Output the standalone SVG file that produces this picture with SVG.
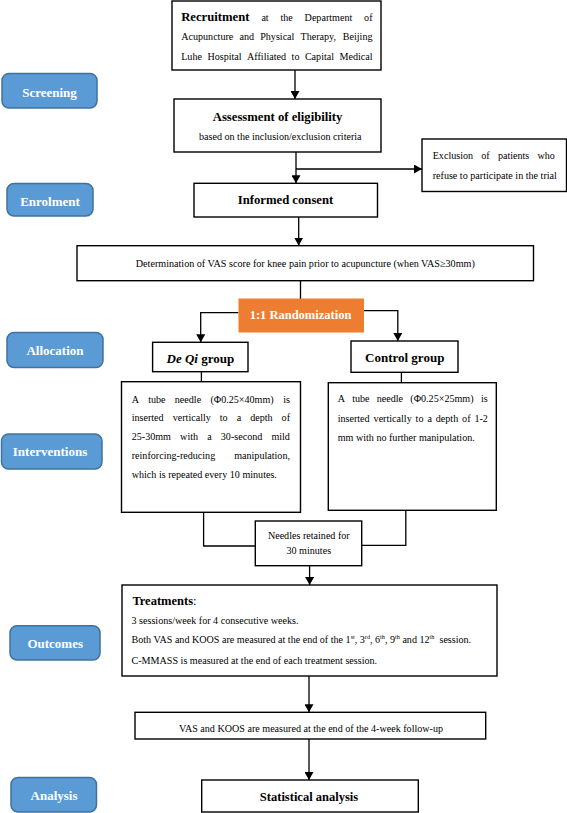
<svg xmlns="http://www.w3.org/2000/svg" width="567" height="813" viewBox="0 0 567 813">
<style>
text{font-family:"Liberation Serif","Times New Roman",serif;fill:#000}
.box{fill:#fff;stroke:#000;stroke-width:1.4}
.pill{fill:#5B9BD5;stroke:#41719C;stroke-width:1.5}
.pt{font-size:13px;font-weight:bold;fill:#fff;text-anchor:middle}
.b{font-size:12.7px;font-weight:bold}
.r{font-size:10.1px}
.c{text-anchor:middle}
.ln{fill:none;stroke:#000;stroke-width:1.3}
</style>
<defs>
<marker id="ah" markerWidth="8" markerHeight="9" refX="8" refY="4.5" orient="auto" markerUnits="userSpaceOnUse"><path d="M0,0 L8,4.5 L0,9 z" fill="#000"/></marker>
</defs>

<g id="connectors">
<path class="ln" d="M295,70 V99" marker-end="url(#ah)"/>
<path class="ln" d="M296,152 V183.3" marker-end="url(#ah)"/>
<path class="ln" d="M296,169 H422" marker-end="url(#ah)"/>
<path class="ln" d="M298.7,217 V245.7" marker-end="url(#ah)"/>
<path class="ln" d="M300.5,280.7 V299"/>
<path class="ln" d="M238.5,312.7 H200.7 V342.3" marker-end="url(#ah)"/>
<path class="ln" d="M364,310.7 H397.8 V341" marker-end="url(#ah)"/>
<path class="ln" d="M201.4,371.7 V381.7"/>
<path class="ln" d="M401.4,372.3 V382.7"/>
<path class="ln" d="M203.6,512.3 V546 H255.3"/>
<path class="ln" d="M405.8,510.3 V545.3 H361.7"/>
<path class="ln" d="M309.6,565.7 V585" marker-end="url(#ah)"/>
<path class="ln" d="M309,676 V712.3" marker-end="url(#ah)"/>
<path class="ln" d="M309,739 V780" marker-end="url(#ah)"/>
</g>

<g id="stage-screening"><rect class="pill" x="2" y="73.5" width="95" height="34.5" rx="7"/><text class="pt" x="49.5" y="96.5">Screening</text></g>
<g id="stage-enrolment"><rect class="pill" x="7" y="183.5" width="86" height="32.5" rx="7"/><text class="pt" x="50" y="205.5">Enrolment</text></g>
<g id="stage-allocation"><rect class="pill" x="7" y="332.5" width="96" height="35" rx="7"/><text class="pt" x="55" y="355">Allocation</text></g>
<g id="stage-interventions"><rect class="pill" x="1.5" y="434" width="100.5" height="35" rx="7"/><text class="pt" x="50" y="456">Interventions</text></g>
<g id="stage-outcomes"><rect class="pill" x="10" y="625.7" width="90" height="34.3" rx="7"/><text class="pt" x="55.2" y="648">Outcomes</text></g>
<g id="stage-analysis"><rect class="pill" x="11" y="777.5" width="85.5" height="34.5" rx="7"/><text class="pt" x="54" y="800">Analysis</text></g>

<g id="recruitment">
<rect class="box" x="172" y="1" width="209" height="69"/>
<text class="b" x="181.2" y="20.5">Recruitment</text>
<text class="r" x="261.4" y="20.5">at</text><text class="r" x="280.5" y="20.5">the</text><text class="r" x="304.6" y="20.5">Department</text><text class="r" x="364.1" y="20.5">of</text>
<text class="r" x="181.2" y="40">Acupuncture</text><text class="r" x="239.5" y="40">and</text><text class="r" x="260.2" y="40">Physical</text><text class="r" x="300.5" y="40">Therapy,</text><text class="r" x="342.8" y="40">Beijing</text>
<text class="r" x="181.2" y="59.5">Luhe</text><text class="r" x="207.4" y="59.5">Hospital</text><text class="r" x="247" y="59.5">Affiliated</text><text class="r" x="291.6" y="59.5">to</text><text class="r" x="304.9" y="59.5">Capital</text><text class="r" x="339.5" y="59.5">Medical</text>
</g>

<g id="assessment">
<rect class="box" x="174" y="99" width="207" height="53"/>
<text class="b c" x="277.6" y="121">Assessment of eligibility</text>
<text class="r c" x="280.3" y="139.5">based on the inclusion/exclusion criteria</text>
</g>

<g id="exclusion">
<rect class="box" x="422" y="139" width="144.5" height="52.5"/>
<text class="r" x="432.7" y="159.3">Exclusion</text><text class="r" x="481.3" y="159.3">of</text><text class="r" x="497.9" y="159.3">patients</text><text class="r" x="537.5" y="159.3">who</text>
<text class="r" x="432.7" y="178.5">refuse to participate in the trial</text>
</g>

<g id="consent">
<rect class="box" x="194" y="183.3" width="183.5" height="33.7"/>
<text class="b c" x="285.5" y="204">Informed consent</text>
</g>

<g id="vas-baseline">
<rect class="box" x="77" y="245.7" width="456.5" height="35"/>
<text class="r c" x="305.3" y="267" textLength="339" lengthAdjust="spacingAndGlyphs">Determination of VAS score for knee pain prior to acupuncture (when VAS≥30mm)</text>
</g>

<g id="randomization">
<rect x="238.5" y="298.5" width="125.5" height="34" fill="#ED7D31"/>
<text class="c" x="300.5" y="318.7" style="font-size:12.5px;font-weight:bold;fill:#fff">1:1 Randomization</text>
</g>

<g id="deqi-group">
<rect class="box" x="152.6" y="342.3" width="95.4" height="29.4"/>
<text class="c" x="200.4" y="363" style="font-size:13px;font-weight:bold"><tspan font-style="italic">De Qi</tspan> group</text>
</g>

<g id="control-group">
<rect class="box" x="351" y="341" width="107" height="31.3"/>
<text class="c" x="404.7" y="361.5" style="font-size:13px;font-weight:bold">Control group</text>
</g>

<g id="deqi-detail">
<rect class="box" x="121.5" y="381.7" width="179" height="130.6"/>
<text class="r" x="131.7" y="402.5">A</text><text class="r" x="148.2" y="402.5">tube</text><text class="r" x="174.8" y="402.5">needle</text><text class="r" x="210.4" y="402.5">(Φ0.25×40mm)</text><text class="r" x="283.2" y="402.5">is</text>
<text class="r" x="131.7" y="421.2">inserted</text><text class="r" x="172.7" y="421.2">vertically</text><text class="r" x="219.8" y="421.2">to</text><text class="r" x="236.7" y="421.2">a</text><text class="r" x="250.2" y="421.2">depth</text><text class="r" x="281.6" y="421.2">of</text>
<text class="r" x="131.7" y="440.2">25-30mm</text><text class="r" x="180.1" y="440.2">with</text><text class="r" x="207.2" y="440.2">a</text><text class="r" x="220.8" y="440.2">30-second</text><text class="r" x="271.4" y="440.2">mild</text>
<text class="r" x="131.7" y="459.2">reinforcing-reducing</text><text class="r" x="234.2" y="459.2">manipulation,</text>
<text class="r" x="131.7" y="478">which is repeated every 10 minutes.</text>
</g>

<g id="control-detail">
<rect class="box" x="328.3" y="382.7" width="168" height="127.6"/>
<text class="r" x="337.7" y="401.8">A</text><text class="r" x="352.2" y="401.8">tube</text><text class="r" x="376.7" y="401.8">needle</text><text class="r" x="410.3" y="401.8">(Φ0.25×25mm)</text><text class="r" x="481" y="401.8">is</text>
<text class="r" x="337.7" y="421.8">inserted</text><text class="r" x="373.6" y="421.8">vertically</text><text class="r" x="415.6" y="421.8">to</text><text class="r" x="427.4" y="421.8">a</text><text class="r" x="435.8" y="421.8">depth</text><text class="r" x="462.1" y="421.8">of</text><text class="r" x="474.4" y="421.8">1-2</text>
<text class="r" x="337.7" y="441.2">mm with no further manipulation.</text>
</g>

<g id="needles">
<rect class="box" x="255.3" y="521" width="106.4" height="44.7"/>
<text class="r c" x="308.8" y="539.2">Needles retained for</text>
<text class="r c" x="308.8" y="554.2">30 minutes</text>
</g>

<g id="treatments">
<rect class="box" x="122" y="585" width="375" height="91"/>
<text x="132.4" y="605" style="font-size:12.5px;font-weight:bold">Treatments<tspan font-weight="normal">:</tspan></text>
<text class="r" x="131.5" y="623.5">3 sessions/week for 4 consecutive weeks.</text>
<text class="r" x="131.5" y="643">Both VAS and KOOS are measured at the end of the 1<tspan font-size="6.2" dy="-4">st</tspan><tspan dy="4">, 3</tspan><tspan font-size="6.2" dy="-4">rd</tspan><tspan dy="4">, 6</tspan><tspan font-size="6.2" dy="-4">th</tspan><tspan dy="4">, 9</tspan><tspan font-size="6.2" dy="-4">th</tspan><tspan dy="4"> and 12</tspan><tspan font-size="6.2" dy="-4">th</tspan><tspan dy="4" xml:space="preserve">  session.</tspan></text>
<text class="r" x="131.5" y="663.5">C-MMASS is measured at the end of each treatment session.</text>
</g>

<g id="followup">
<rect class="box" x="135" y="712.3" width="350.7" height="26.7"/>
<text class="r c" x="311" y="732">VAS and KOOS are measured at the end of the 4-week follow-up</text>
</g>

<g id="statistics">
<rect class="box" x="201.7" y="780" width="216.6" height="32"/>
<text class="c" x="309" y="800.5" style="font-size:12.5px;font-weight:bold">Statistical analysis</text>
</g>
</svg>
